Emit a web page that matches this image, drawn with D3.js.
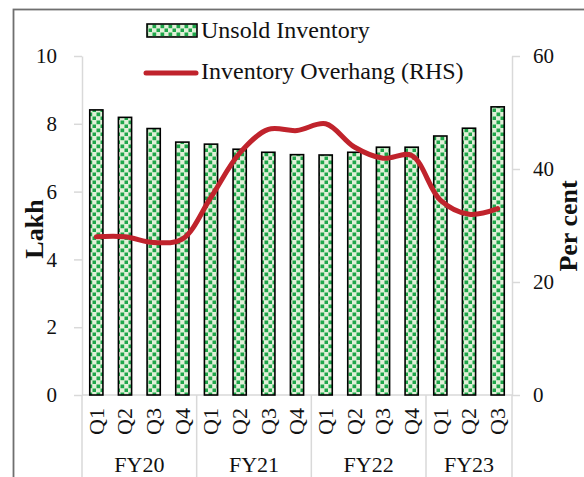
<!DOCTYPE html>
<html>
<head>
<meta charset="utf-8">
<script src="https://cdn.jsdelivr.net/npm/d3@7"></script>
<style>
  html, body { margin: 0; padding: 0; background: #fff; }
  svg { display: block; font-family: "Liberation Serif", "Times New Roman", serif; }
</style>
</head>
<body>
<svg id="chart" width="584" height="477"></svg>
<script>
// Quarterly categories, grouped by fiscal year
const quarters = ["Q1","Q2","Q3","Q4","Q1","Q2","Q3","Q4","Q1","Q2","Q3","Q4","Q1","Q2","Q3"];
const fiscalYears = ["FY20","FY21","FY22","FY23"];
const quartersPerYear = [4, 4, 4, 3];

// Unsold inventory (lakh units, left axis)
const unsoldInventory = [8.41, 8.19, 7.86, 7.46, 7.40, 7.25, 7.16, 7.09, 7.08, 7.16, 7.31, 7.31, 7.64, 7.87, 8.50];
// Inventory overhang (per cent, right axis)
const inventoryOverhang = [28.0, 28.0, 27.0, 27.6, 35.0, 42.8, 47.0, 46.8, 48.0, 43.9, 41.9, 42.4, 34.5, 32.0, 33.0];

const leftTicks = [0, 2, 4, 6, 8, 10];
const rightTicks = [0, 20, 40, 60];

const svg = d3.select("#chart");
const plot = { left: 82, right: 512, top: 56, bottom: 395 };
const axisGrey = "#d9d9d9";

// Outer frame
svg.append("rect")
  .attr("x", 13.5).attr("y", 9.5)
  .attr("width", 600).attr("height", 500)
  .attr("fill", "none").attr("stroke", "#6f6f6f").attr("stroke-width", 1.8);

// Bar fill pattern: light green with green squares
const defs = svg.append("defs");
const pat = defs.append("pattern")
  .attr("id", "confetti").attr("patternUnits", "userSpaceOnUse")
  .attr("width", 8).attr("height", 8);
pat.append("rect").attr("width", 8).attr("height", 8).attr("fill", "#e2f0d9");
pat.append("rect").attr("x", 0.5).attr("y", 0.5).attr("width", 3.7).attr("height", 3.7).attr("fill", "#1ea64a");
pat.append("rect").attr("x", 4.5).attr("y", 4.5).attr("width", 3.7).attr("height", 3.7).attr("fill", "#1ea64a");

const idx = d3.range(quarters.length);
const x = d3.scaleBand().domain(idx).range([plot.left, plot.right]).paddingInner(0.54).paddingOuter(0.27);
const yL = d3.scaleLinear().domain([0, 10]).range([plot.bottom, plot.top]);
const yR = d3.scaleLinear().domain([0, 60]).range([plot.bottom, plot.top]);

// Left axis
const gL = svg.append("g").attr("transform", `translate(${plot.left},0)`)
  .call(d3.axisLeft(yL).tickValues(leftTicks).tickSize(8).tickPadding(17).tickSizeOuter(0));
// Right axis
const gR = svg.append("g").attr("transform", `translate(${plot.right},0)`)
  .call(d3.axisRight(yR).tickValues(rightTicks).tickSize(8).tickPadding(13).tickSizeOuter(0));
[gL, gR].forEach(g => {
  g.select(".domain").attr("stroke", axisGrey).attr("stroke-width", 1.5);
  g.selectAll(".tick line").attr("stroke", axisGrey).attr("stroke-width", 1.5);
  g.selectAll(".tick text").attr("fill", "#111").style("font-size", "21px")
    .style("font-family", "'Liberation Serif', serif");
});

// Category baseline
svg.append("line")
  .attr("x1", plot.left).attr("x2", plot.right)
  .attr("y1", plot.bottom).attr("y2", plot.bottom)
  .attr("stroke", axisGrey).attr("stroke-width", 1.5);

// Group separators below the baseline
const boundaries = [0];
quartersPerYear.forEach(n => boundaries.push(boundaries[boundaries.length - 1] + n));
const boundaryX = i => plot.left + i * (plot.right - plot.left) / quarters.length;
svg.append("g").selectAll("line").data(boundaries).join("line")
  .attr("x1", d => boundaryX(d)).attr("x2", d => boundaryX(d))
  .attr("y1", plot.bottom).attr("y2", 480)
  .attr("stroke", axisGrey).attr("stroke-width", 1.5);

// Bars
svg.append("g").selectAll("rect").data(unsoldInventory).join("rect")
  .attr("x", (d, i) => x(i)).attr("width", x.bandwidth())
  .attr("y", d => yL(d)).attr("height", d => yL(0) - yL(d))
  .attr("fill", "url(#confetti)").attr("stroke", "#000").attr("stroke-width", 1.6);

// Overhang line
const line = d3.line()
  .x((d, i) => x(i) + x.bandwidth() / 2)
  .y(d => yR(d))
  .curve(d3.curveCatmullRom.alpha(0.5));
svg.append("path").datum(inventoryOverhang)
  .attr("d", line).attr("fill", "none")
  .attr("stroke", "#c0232c").attr("stroke-width", 5)
  .attr("stroke-linecap", "round").attr("stroke-linejoin", "round");

// Quarter labels
svg.append("g").selectAll("text").data(quarters).join("text")
  .attr("transform", (d, i) => `translate(${x(i) + x.bandwidth() / 2},408) rotate(-90)`)
  .attr("text-anchor", "end").attr("dy", "0.34em")
  .style("font-size", "22px").attr("fill", "#111")
  .text(d => d);

// Fiscal year labels
svg.append("g").selectAll("text").data(fiscalYears).join("text")
  .attr("x", (d, i) => (boundaryX(boundaries[i]) + boundaryX(boundaries[i + 1])) / 2)
  .attr("y", 472)
  .attr("text-anchor", "middle")
  .style("font-size", "22px").attr("fill", "#111")
  .text(d => d);

// Axis titles
svg.append("text")
  .attr("transform", "translate(43,229) rotate(-90)")
  .attr("text-anchor", "middle")
  .style("font-size", "26px").style("font-weight", "bold").attr("fill", "#111")
  .text("Lakh");
svg.append("text")
  .attr("transform", "translate(577,226) rotate(-90)")
  .attr("text-anchor", "middle")
  .style("font-size", "26px").style("font-weight", "bold").attr("fill", "#111")
  .text("Per cent");

// Legend
const legend = svg.append("g");
legend.append("rect")
  .attr("x", 147).attr("y", 24).attr("width", 50).attr("height", 13)
  .attr("fill", "url(#confetti)").attr("stroke", "#000").attr("stroke-width", 1.6);
legend.append("text").attr("x", 201).attr("y", 38)
  .style("font-size", "24px").attr("fill", "#111").text("Unsold Inventory");
legend.append("line")
  .attr("x1", 146).attr("x2", 196).attr("y1", 73).attr("y2", 73)
  .attr("stroke", "#c0232c").attr("stroke-width", 5).attr("stroke-linecap", "round");
legend.append("text").attr("x", 201).attr("y", 79)
  .style("font-size", "24px").attr("fill", "#111").text("Inventory Overhang (RHS)");
</script>
</body>
</html>
